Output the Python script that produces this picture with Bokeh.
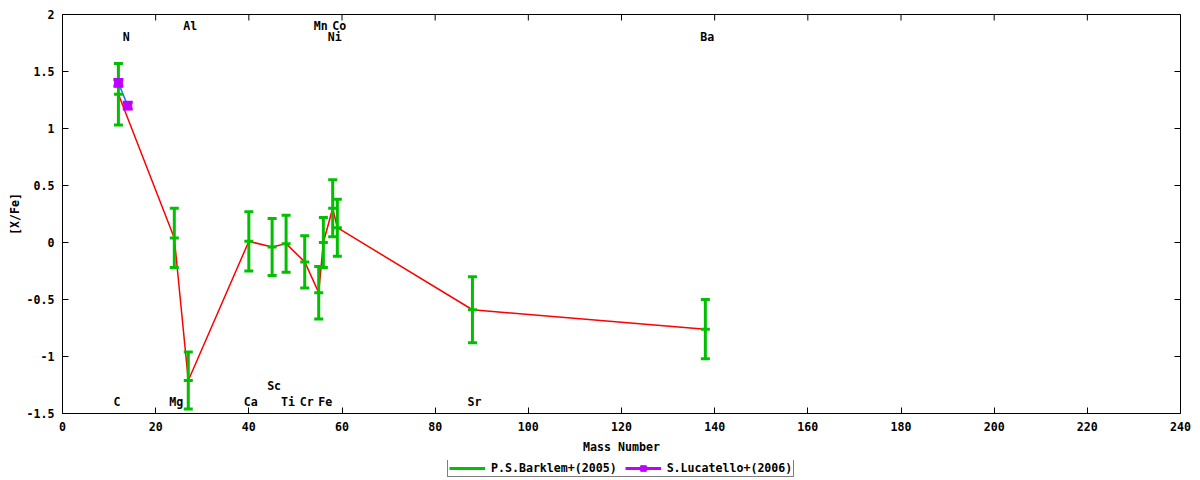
import numpy as np
from bokeh.plotting import figure
from bokeh.layouts import column
from bokeh.models import (Range1d, FixedTicker, CustomJSTickFormatter,
                          Legend, LegendItem, ColumnDataSource)
from bokeh.core.properties import value
from bokeh.embed import file_html
from bokeh.resources import INLINE

# ---- data ----
barklem_elem = ["C", "Mg", "Al", "Ca", "Sc", "Ti", "Cr", "Mn", "Fe", "Ni", "Co", "Sr", "Ba"]
barklem_mass = [12, 24, 27, 40, 45, 48, 52, 55, 56, 58, 59, 88, 138]
barklem_val = [1.30, 0.04, -1.21, 0.01, -0.04, -0.01, -0.17, -0.44, 0.00, 0.30, 0.13, -0.59, -0.76]
barklem_err = [0.27, 0.26, 0.25, 0.26, 0.25, 0.25, 0.23, 0.23, 0.22, 0.25, 0.25, 0.29, 0.26]

lucatello_elem = ["C", "N"]
lucatello_mass = [12, 14]
lucatello_val = [1.40, 1.20]
lucatello_err = [0.03, 0.03]

label_text = ["C", "N", "Mg", "Al", "Ca", "Sc", "Ti", "Cr", "Mn", "Fe", "Ni", "Co", "Sr", "Ba"]
label_mass = [12, 14, 24, 27, 40, 45, 48, 52, 55, 56, 58, 59, 88, 138]
label_y = [-1.4, 1.8, -1.4, 1.9, -1.4, -1.26, -1.4, -1.4, 1.9, -1.4, 1.8, 1.9, -1.4, 1.8]

x_min, x_max = 0, 240
y_min, y_max = -1.5, 2
x_ticks = [0, 20, 40, 60, 80, 100, 120, 140, 160, 180, 200, 220, 240]
y_ticks = [-1.5, -1, -0.5, 0, 0.5, 1, 1.5, 2]

series_names = ["P.S.Barklem+(2005)", "S.Lucatello+(2006)"]

# ---- styles ----
RED = "#ff0000"
GREEN = "#00c000"
BLUE = "#0080ff"
MAGENTA = "#c000ff"
FONT = "DejaVu Sans Mono"
FS = "11.6px"

p = figure(width=1200, height=460, x_range=Range1d(x_min, x_max), y_range=Range1d(y_min, y_max),
           output_backend="svg", toolbar_location=None,
           min_border_left=62, min_border_right=20, min_border_top=14, min_border_bottom=47,
           x_axis_label="Mass Number", y_axis_label="[X/Fe]")
p.grid.visible = False
p.outline_line_color = "black"
p.outline_line_width = 1
p.background_fill_color = "white"
p.border_fill_color = "white"

fmt = CustomJSTickFormatter(code="return String(tick);")
for ax, ticks in ((p.xaxis[0], x_ticks), (p.yaxis[0], y_ticks)):
    ax.ticker = FixedTicker(ticks=ticks)
    ax.formatter = fmt
    ax.major_tick_in = 6
    ax.major_tick_out = 0
    ax.minor_tick_line_color = None
    ax.axis_line_color = None
    ax.major_tick_line_color = "black"
    ax.major_label_text_font = FONT
    ax.major_label_text_font_size = FS
    ax.major_label_text_font_style = "bold"
    ax.major_label_text_color = "black"
    ax.axis_label_text_font = FONT
    ax.axis_label_text_font_size = FS
    ax.axis_label_text_font_style = "bold"
    ax.axis_label_text_color = "black"
p.xaxis[0].major_label_standoff = 8
p.xaxis[0].axis_label_standoff = 6
p.yaxis[0].major_label_standoff = 8
p.yaxis[0].axis_label_standoff = 2

# mirrored inward ticks on top and right edges (half of each dash is clipped by the frame)
p.scatter(x=x_ticks, y=[y_max] * len(x_ticks), marker="dash", angle=np.pi / 2, size=12,
          line_color="black", line_width=1)
p.scatter(x=[x_max] * len(y_ticks), y=y_ticks, marker="dash", size=12,
          line_color="black", line_width=1)

b = np.array(barklem_val)
be = np.array(barklem_err)
src_b = ColumnDataSource(dict(x=barklem_mass, y=barklem_val, lo=b - be, hi=b + be,
                              name=barklem_elem))
l = np.array(lucatello_val)
le = np.array(lucatello_err)
src_l = ColumnDataSource(dict(x=lucatello_mass, y=lucatello_val, lo=l - le, hi=l + le,
                              name=lucatello_elem))

# connecting lines
p.line('x', 'y', source=src_b, line_color=RED, line_width=1.5)
p.line('x', 'y', source=src_l, line_color=BLUE, line_width=1.5)

# Barklem error bars
p.segment(x0='x', y0='lo', x1='x', y1='hi', source=src_b, line_color=GREEN, line_width=3)
for col in ('lo', 'hi', 'y'):
    p.scatter('x', col, source=src_b, marker="dash", size=9, line_width=3, line_color=GREEN)

# Lucatello error bars + points
p.segment(x0='x', y0='lo', x1='x', y1='hi', source=src_l, line_color=MAGENTA, line_width=3)
for col in ('lo', 'hi'):
    p.scatter('x', col, source=src_l, marker="dash", size=10, line_width=3, line_color=MAGENTA)
p.scatter('x', 'y', source=src_l, marker="square", size=8, line_color=MAGENTA,
          fill_color=MAGENTA, line_width=1)

# element labels
p.text(x=label_mass, y=label_y, text=label_text, text_align="left", text_baseline="middle",
       x_offset=-5, text_font=value(FONT), text_font_size=FS, text_font_style="bold",
       text_color="black")

# ---- legend strip below the plot ----
pl = figure(width=1200, height=20, x_range=Range1d(x_min, x_max), y_range=Range1d(y_min, y_max),
            output_backend="svg", toolbar_location=None,
            x_axis_location=None, y_axis_location=None, min_border=0)
pl.grid.visible = False
pl.outline_line_color = None
pl.background_fill_color = "white"
pl.border_fill_color = "white"

g_seg = pl.segment(x0='x', y0='lo', x1='x', y1='hi', source=src_b, line_color=GREEN,
                   line_width=3, visible=False)
g_tick = pl.scatter('x', 'y', source=src_b, marker="dash", angle=np.pi / 2, size=9,
                    line_width=3, line_color=GREEN, visible=False)
m_seg = pl.segment(x0='x', y0='lo', x1='x', y1='hi', source=src_l, line_color=MAGENTA,
                   line_width=3, visible=False)
m_tick = pl.scatter('x', 'y', source=src_l, marker="dash", angle=np.pi / 2, size=9,
                    line_width=3, line_color=MAGENTA, visible=False)
m_pt = pl.scatter('x', 'y', source=src_l, marker="square", size=8, line_color=MAGENTA,
                  fill_color=MAGENTA, visible=False)

legend = Legend(items=[LegendItem(label=series_names[0], renderers=[g_seg, g_tick]),
                       LegendItem(label=series_names[1], renderers=[m_seg, m_tick, m_pt])],
                location=(385, 3), orientation="horizontal",
                glyph_width=36, glyph_height=14, label_height=14, padding=1, margin=0,
                spacing=8, label_standoff=6,
                border_line_color="black", border_line_width=1,
                background_fill_color="white", background_fill_alpha=1.0,
                label_text_font=FONT, label_text_font_size=FS, label_text_font_style="bold",
                label_text_color="black")
pl.add_layout(legend, "center")

layout = column(p, pl, spacing=0)
open("out.html", "w").write(file_html(layout, INLINE))
